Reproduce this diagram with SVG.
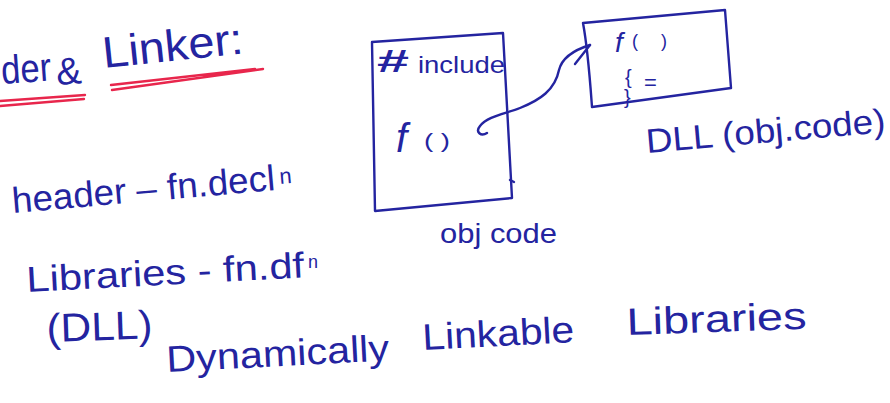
<svg xmlns="http://www.w3.org/2000/svg" width="890" height="403" viewBox="0 0 890 403">
  <style>
    .ink { fill: #2424a0; font-family: "Liberation Sans", "DejaVu Sans", sans-serif; }
    .line { fill: none; stroke: #2424a0; stroke-width: 2.4; stroke-linecap: round; stroke-linejoin: round; }
    .red { fill: none; stroke: #e8264c; stroke-width: 2.4; stroke-linecap: round; }
  </style>
  <rect width="890" height="403" fill="#ffffff"/>

  <!-- heading with red double underline -->
  <g id="heading">
    <text class="ink" x="2" y="84" font-size="40" textLength="50" lengthAdjust="spacingAndGlyphs" transform="rotate(-4 2 84)">der</text>
    <text class="ink" x="57" y="85" font-size="38" transform="rotate(-4 57 85)">&amp;</text>
    <text class="ink" x="104" y="68" font-size="44" textLength="141" lengthAdjust="spacingAndGlyphs" transform="rotate(-6 104 68)">Linker:</text>
    <path class="red" d="M0,101 L85,95 M0,106 L84,99"/>
    <path class="red" d="M111,85 L255,69 M112,90 L263,69"/>
  </g>

  <!-- notes on the left -->
  <g id="notes">
    <text class="ink" x="13" y="213" font-size="36" textLength="264" lengthAdjust="spacingAndGlyphs" transform="rotate(-5 13 213)">header – fn.decl</text>
    <text class="ink" x="280" y="184" font-size="22" transform="rotate(-5 280 184)">n</text>
    <text class="ink" x="27" y="292" font-size="36" textLength="278" lengthAdjust="spacingAndGlyphs" transform="rotate(-3 27 292)">Libraries - fn.df</text>
    <text class="ink" x="308" y="268" font-size="18">n</text>
    <text class="ink" x="47" y="342" font-size="40" textLength="106" lengthAdjust="spacingAndGlyphs" transform="rotate(-2 47 342)">(DLL)</text>
    <text class="ink" x="167" y="372" font-size="37" textLength="223" lengthAdjust="spacingAndGlyphs" transform="rotate(-3 167 372)">Dynamically</text>
    <text class="ink" x="423" y="350" font-size="37" textLength="152" lengthAdjust="spacingAndGlyphs" transform="rotate(-3 423 350)">Linkable</text>
    <text class="ink" x="627" y="335" font-size="38" textLength="180" lengthAdjust="spacingAndGlyphs" transform="rotate(-2 627 335)">Libraries</text>
  </g>

  <!-- object code block -->
  <g id="obj-code">
    <path class="line" d="M372,42 L503,33 L512,198 L375,211 Z"/>
    <path class="line" d="M510,180 L514,182"/>
    <text class="ink" x="377" y="72" font-size="32" font-weight="bold" textLength="32" lengthAdjust="spacingAndGlyphs">#</text>
    <text class="ink" x="418" y="73" font-size="24" textLength="87" lengthAdjust="spacingAndGlyphs">include</text>
    <text class="ink" x="396" y="152" font-size="40" font-style="italic">f</text>
    <text class="ink" x="424" y="148" font-size="20" textLength="26" lengthAdjust="spacingAndGlyphs">( )</text>
    <text class="ink" x="440" y="243" font-size="28" textLength="117" lengthAdjust="spacingAndGlyphs">obj code</text>
  </g>

  <!-- DLL block -->
  <g id="dll">
    <path class="line" d="M583,23 L725,10 L731,88 L592,107 C590,80 588,50 583,23 Z"/>
    <text class="ink" x="615" y="52" font-size="28" font-style="italic">f</text>
    <text class="ink" x="632" y="47" font-size="18" textLength="35" lengthAdjust="spacing">( )</text>
    <text class="ink" x="625" y="84" font-size="20">{</text>
    <text class="ink" x="644" y="90" font-size="22">=</text>
    <text class="ink" x="624" y="104" font-size="20">}</text>
    <text class="ink" x="647" y="153" font-size="34" textLength="240" lengthAdjust="spacingAndGlyphs" transform="rotate(-5 647 153)">DLL (obj.code)</text>
  </g>

  <!-- call link from f() to the DLL -->
  <g id="connectors">
    <path class="line" d="M487,133 C481,137 475,132 480,126 C488,116 505,114 520,108 C540,100 555,90 559,70 C562,58 574,50 590,45"/>
    <path class="line" d="M575,64 L590,45"/>
  </g>
</svg>
